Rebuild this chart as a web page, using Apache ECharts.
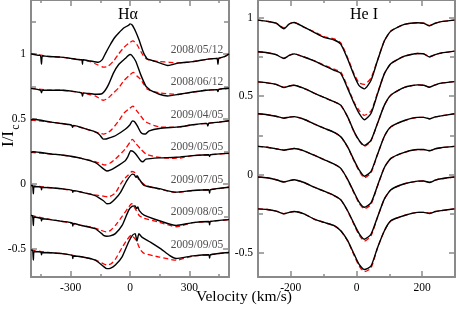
<!DOCTYPE html>
<html><head><meta charset="utf-8">
<script src="https://cdn.jsdelivr.net/npm/echarts@6/dist/echarts.min.js"></script>
<style>html,body{margin:0;padding:0;background:#fff}#c{width:457px;height:309px}</style>
</head><body><div id="c"></div>
<script>
// ---------- DATA ----------
const dates = ['2008/05/12','2008/06/12','2009/04/05','2009/05/05','2009/07/05','2009/08/05','2009/09/05'];
const dateLevels = [1, 0.75, 0.5, 0.25, 0, -0.25, -0.5];
const dateLabelV = 471;

// H-alpha observed (black) [velocity km/s, I/Ic]
const haObs1 = [[-500,1.00],[-470,0.99],[-452,0.985],[-447,0.92],[-442,0.985],[-413,0.98],[-350,0.975],[-300,0.965],[-250,0.955],[-243,0.955],[-240,0.92],[-237,0.955],[-200,0.945],[-160,0.935],[-140,0.955],[-125,1.0],[-100,1.07],[-80,1.12],[-57,1.16],[-30,1.2],[-7,1.22],[0,1.23],[12,1.22],[29,1.17],[45,1.11],[54,1.07],[63,1.03],[71,1.0],[88,0.96],[110,0.95],[131,0.94],[160,0.925],[190,0.91],[220,0.92],[249,0.93],[317,0.94],[385,0.957],[439,0.965],[444,0.92],[449,0.965],[480,0.98],[500,1.0]];
const haObs2 = [[-500,0.734],[-452,0.72],[-447,0.70],[-442,0.72],[-400,0.72],[-346,0.72],[-245,0.70],[-240,0.675],[-235,0.70],[-176,0.689],[-142,0.693],[-125,0.72],[-108,0.765],[-83,0.854],[-57,0.918],[-24,0.964],[0,0.995],[8,0.99],[29,0.943],[54,0.84],[80,0.752],[92,0.735],[97,0.727],[102,0.72],[148,0.689],[190,0.676],[249,0.689],[317,0.706],[385,0.72],[439,0.725],[444,0.71],[449,0.727],[500,0.735]];
const haObs3 = [[-500,0.49],[-490,0.497],[-400,0.475],[-346,0.464],[-295,0.452],[-290,0.435],[-285,0.45],[-250,0.435],[-176,0.40],[-155,0.38],[-134,0.344],[-120,0.345],[-100,0.355],[-74,0.37],[-24,0.42],[0,0.455],[12,0.484],[22,0.48],[37,0.446],[55,0.395],[70,0.383],[80,0.385],[97,0.408],[148,0.426],[249,0.438],[317,0.454],[388,0.465],[393,0.445],[398,0.466],[450,0.475],[500,0.485]];
const haObs4 = [[-500,0.242],[-490,0.247],[-400,0.23],[-346,0.222],[-290,0.21],[-245,0.196],[-176,0.165],[-134,0.115],[-117,0.099],[-100,0.105],[-74,0.127],[-24,0.178],[-12,0.205],[4,0.255],[15,0.25],[29,0.23],[54,0.178],[65,0.17],[80,0.19],[148,0.2],[233,0.204],[317,0.217],[398,0.224],[402,0.21],[406,0.224],[500,0.234]];
const haObs5 = [[-500,-0.013],[-492,-0.013],[-488,-0.077],[-484,-0.02],[-450,-0.025],[-447,-0.045],[-444,-0.027],[-400,-0.03],[-346,-0.038],[-292,-0.05],[-289,-0.065],[-286,-0.052],[-245,-0.064],[-176,-0.09],[-134,-0.13],[-117,-0.153],[-100,-0.15],[-74,-0.115],[-47,-0.063],[-15,0.027],[12,0.075],[22,0.07],[30,0.05],[37,0.06],[46,0.038],[71,-0.011],[148,-0.037],[233,-0.064],[317,-0.051],[398,-0.045],[402,-0.07],[406,-0.045],[500,-0.026]];
const haObs6 = [[-500,-0.243],[-492,-0.245],[-488,-0.32],[-484,-0.255],[-450,-0.265],[-447,-0.285],[-444,-0.268],[-400,-0.275],[-346,-0.288],[-292,-0.3],[-289,-0.325],[-286,-0.305],[-245,-0.32],[-176,-0.344],[-149,-0.375],[-134,-0.396],[-117,-0.403],[-100,-0.40],[-74,-0.383],[-40,-0.32],[-7,-0.204],[12,-0.172],[26,-0.17],[33,-0.19],[40,-0.178],[46,-0.204],[71,-0.241],[148,-0.284],[233,-0.32],[317,-0.298],[398,-0.29],[402,-0.315],[406,-0.29],[500,-0.275]];
const haObs7 = [[-500,-0.51],[-492,-0.51],[-488,-0.587],[-484,-0.52],[-450,-0.525],[-447,-0.545],[-444,-0.528],[-400,-0.53],[-346,-0.536],[-292,-0.55],[-289,-0.575],[-286,-0.555],[-245,-0.561],[-176,-0.587],[-134,-0.635],[-117,-0.652],[-100,-0.65],[-74,-0.625],[-40,-0.561],[-7,-0.447],[12,-0.396],[26,-0.383],[35,-0.44],[45,-0.383],[60,-0.41],[105,-0.45],[156,-0.50],[199,-0.55],[233,-0.574],[317,-0.554],[398,-0.545],[402,-0.57],[406,-0.545],[500,-0.528]];

// H-alpha model (red dashed)
const haFit1 = [[-500,1.0],[-447,0.99],[-413,0.98],[-350,0.975],[-300,0.965],[-250,0.955],[-200,0.94],[-170,0.92],[-134,0.897],[-110,0.905],[-80,0.95],[-57,1.0],[-30,1.05],[-7,1.08],[15,1.10],[35,1.07],[54,1.02],[70,0.98],[88,0.957],[120,0.945],[148,0.94],[200,0.935],[250,0.93],[317,0.94],[385,0.957],[440,0.965],[480,0.98],[500,1.0]];
const haFit2 = [[-500,0.734],[-400,0.72],[-346,0.72],[-245,0.70],[-200,0.685],[-176,0.676],[-134,0.643],[-110,0.66],[-91,0.689],[-57,0.739],[-30,0.795],[-7,0.829],[17,0.857],[35,0.83],[54,0.803],[70,0.765],[88,0.727],[120,0.71],[148,0.70],[216,0.69],[249,0.689],[317,0.706],[385,0.72],[440,0.725],[500,0.735]];
const haFit3 = [[-500,0.49],[-400,0.475],[-346,0.464],[-250,0.435],[-176,0.40],[-134,0.383],[-110,0.395],[-91,0.42],[-57,0.484],[-30,0.545],[-7,0.574],[15,0.597],[35,0.56],[54,0.523],[70,0.49],[88,0.47],[120,0.45],[148,0.438],[200,0.435],[249,0.438],[317,0.454],[388,0.465],[450,0.475],[500,0.485]];
const haFit4 = [[-500,0.242],[-400,0.23],[-346,0.222],[-245,0.196],[-176,0.171],[-125,0.145],[-100,0.16],[-74,0.191],[-24,0.268],[0,0.32],[12,0.342],[30,0.31],[54,0.268],[80,0.23],[110,0.215],[148,0.204],[216,0.196],[260,0.2],[317,0.217],[400,0.224],[500,0.234]];
const haFit5 = [[-500,-0.013],[-400,-0.03],[-346,-0.038],[-245,-0.064],[-176,-0.085],[-134,-0.095],[-110,-0.10],[-74,-0.07],[-47,0.0],[-24,0.045],[-7,0.07],[10,0.095],[25,0.085],[46,0.03],[80,-0.013],[148,-0.04],[233,-0.066],[317,-0.051],[400,-0.045],[500,-0.026]];
const haFit6 = [[-500,-0.243],[-400,-0.275],[-346,-0.288],[-245,-0.32],[-176,-0.34],[-149,-0.356],[-120,-0.37],[-100,-0.36],[-74,-0.32],[-40,-0.25],[-7,-0.18],[8,-0.152],[30,-0.2],[46,-0.243],[71,-0.265],[148,-0.295],[233,-0.33],[317,-0.298],[400,-0.29],[500,-0.275]];
const haFit7 = [[-500,-0.51],[-400,-0.53],[-346,-0.536],[-245,-0.561],[-176,-0.585],[-134,-0.615],[-117,-0.625],[-95,-0.615],[-74,-0.58],[-40,-0.49],[-15,-0.43],[6,-0.395],[29,-0.43],[54,-0.51],[71,-0.535],[148,-0.563],[233,-0.587],[317,-0.556],[400,-0.545],[500,-0.528]];

// He I: shared velocity grid
const heV = [-300,-272,-245,-221,-205,-190,-160,-129,-99,-68,-48,-27,-7,8,24,44,64,85,105,146,186,205,222,240,258,298];
const heObs1 = [0.985,0.977,0.965,0.93,0.96,0.97,0.94,0.907,0.875,0.858,0.832,0.737,0.63,0.567,0.547,0.60,0.727,0.853,0.916,0.958,0.968,0.965,0.948,0.965,0.975,0.985];
const heObs2 = [0.783,0.777,0.765,0.74,0.76,0.77,0.75,0.725,0.695,0.665,0.645,0.55,0.453,0.39,0.35,0.39,0.515,0.644,0.708,0.755,0.772,0.77,0.75,0.765,0.775,0.787];
const heObs3 = [0.591,0.585,0.575,0.555,0.565,0.57,0.55,0.52,0.492,0.465,0.443,0.368,0.273,0.219,0.187,0.219,0.327,0.443,0.508,0.556,0.572,0.57,0.557,0.572,0.583,0.593];
const heObs4 = [0.388,0.382,0.372,0.36,0.367,0.37,0.353,0.323,0.296,0.27,0.242,0.177,0.09,0.03,-0.01,0.02,0.13,0.245,0.305,0.345,0.365,0.365,0.355,0.368,0.375,0.388];
const heObs5 = [0.18,0.175,0.165,0.156,0.162,0.167,0.152,0.124,0.096,0.067,0.04,-0.03,-0.115,-0.175,-0.208,-0.18,-0.07,0.046,0.104,0.142,0.16,0.16,0.152,0.165,0.172,0.18];
const heObs6 = [-0.015,-0.02,-0.032,-0.047,-0.038,-0.032,-0.05,-0.08,-0.105,-0.133,-0.16,-0.23,-0.315,-0.375,-0.411,-0.38,-0.27,-0.154,-0.096,-0.058,-0.041,-0.04,-0.05,-0.035,-0.026,-0.015];
const heObs7 = [-0.218,-0.222,-0.232,-0.25,-0.24,-0.235,-0.25,-0.283,-0.304,-0.325,-0.357,-0.42,-0.508,-0.572,-0.604,-0.583,-0.465,-0.357,-0.293,-0.26,-0.24,-0.24,-0.247,-0.235,-0.229,-0.218];
const heFit1 = [0.985,0.977,0.965,0.935,0.96,0.97,0.94,0.91,0.88,0.865,0.84,0.745,0.64,0.585,0.575,0.615,0.73,0.853,0.916,0.958,0.968,0.965,0.95,0.965,0.975,0.985];
const heFit2 = [0.783,0.777,0.765,0.743,0.76,0.77,0.75,0.727,0.698,0.672,0.655,0.56,0.46,0.41,0.378,0.405,0.52,0.644,0.708,0.755,0.772,0.77,0.752,0.765,0.775,0.787];
const heFit3 = [0.591,0.585,0.575,0.557,0.565,0.57,0.55,0.52,0.492,0.465,0.443,0.368,0.27,0.215,0.18,0.215,0.327,0.443,0.508,0.556,0.572,0.57,0.558,0.572,0.583,0.593];
const heFit4 = [0.388,0.382,0.372,0.362,0.367,0.37,0.353,0.323,0.296,0.27,0.242,0.175,0.085,0.025,-0.02,0.012,0.128,0.245,0.305,0.345,0.365,0.365,0.357,0.368,0.375,0.388];
const heFit5 = [0.18,0.175,0.165,0.158,0.162,0.167,0.152,0.124,0.096,0.067,0.04,-0.032,-0.12,-0.183,-0.218,-0.19,-0.072,0.046,0.104,0.142,0.16,0.16,0.154,0.165,0.172,0.18];
const heFit6 = [-0.015,-0.02,-0.032,-0.045,-0.038,-0.032,-0.05,-0.08,-0.105,-0.133,-0.16,-0.232,-0.32,-0.385,-0.423,-0.39,-0.272,-0.154,-0.096,-0.058,-0.041,-0.04,-0.048,-0.035,-0.026,-0.015];
const heFit7 = [-0.218,-0.222,-0.232,-0.248,-0.24,-0.235,-0.25,-0.283,-0.304,-0.325,-0.357,-0.422,-0.515,-0.582,-0.618,-0.595,-0.468,-0.357,-0.293,-0.26,-0.24,-0.24,-0.245,-0.235,-0.229,-0.218];

// tick values
const haXMajor = [-300, 0, 300], haXMinor = [-450, -150, 150, 450];
const haYMajor = [-0.5, 0, 0.5, 1], haYMinor = [-0.25, 0.25, 0.75, 1.25];
const heXMajor = [-200, 0, 200], heXMinor = [-100, 100];
const heYMajor = [-0.5, 0, 0.5, 1], heYMinor = [-0.25, 0.25, 0.75];

// ---------- LAYOUT ----------
const SERIF = "'Liberation Serif','DejaVu Serif',serif";
const AX = '#8a8a8a';
const haXRange = [-500, 500], haYRange = [-0.7165, 1.414];
const heXRange = [-300, 300], heYRange = [-0.652, 1.113];

function mkAxis(grid, range, pos, vals, len, labels, line) {
  return {
    type: 'value', gridIndex: grid, position: pos, min: range[0], max: range[1],
    axisLine: { show: line, onZero: false, lineStyle: { color: AX, width: 2 } },
    axisTick: { show: true, inside: true, length: len, customValues: vals, lineStyle: { color: AX, width: 1.5 } },
    axisLabel: labels ? { show: true, customValues: vals, margin: 5, color: '#000', fontFamily: SERIF, fontSize: 11.5,
      formatter: v => String(v) } : { show: false },
    splitLine: { show: false }
  };
}
function axesFor(grid, xr, yr, xMaj, xMin, yMaj, yMin) {
  return {
    x: [mkAxis(grid, xr, 'bottom', xMaj, 6, true, true), mkAxis(grid, xr, 'bottom', xMin, 3, false, false),
        mkAxis(grid, xr, 'top', xMaj, 6, false, true), mkAxis(grid, xr, 'top', xMin, 3, false, false)],
    y: [mkAxis(grid, yr, 'left', yMaj, 6, true, true), mkAxis(grid, yr, 'left', yMin, 5, false, false),
        mkAxis(grid, yr, 'right', yMaj, 6, false, true), mkAxis(grid, yr, 'right', yMin, 5, false, false)]
  };
}
const a0 = axesFor(0, haXRange, haYRange, haXMajor, haXMinor, haYMajor, haYMinor);
const a1 = axesFor(1, heXRange, heYRange, heXMajor, heXMinor, heYMajor, heYMinor);

function lineSeries(data, grid, dashed) {
  return {
    type: 'line', xAxisIndex: grid * 4, yAxisIndex: grid * 4, data: data,
    symbol: 'none', showSymbol: false, smooth: 0.2, silent: true, z: dashed ? 2 : 3,
    lineStyle: { color: dashed ? '#ff0000' : '#000', width: dashed ? 1.3 : 1.4, type: dashed ? [5, 3] : 'solid' }
  };
}
const haObs = [haObs1, haObs2, haObs3, haObs4, haObs5, haObs6, haObs7];
const haFit = [haFit1, haFit2, haFit3, haFit4, haFit5, haFit6, haFit7];
const heObs = [heObs1, heObs2, heObs3, heObs4, heObs5, heObs6, heObs7];
const heFit = [heFit1, heFit2, heFit3, heFit4, heFit5, heFit6, heFit7];
const pair = arr => heV.map((v, i) => [v, arr[i]]);

const series = [];
haFit.forEach(d => series.push(lineSeries(d, 0, true)));
haObs.forEach(d => series.push(lineSeries(d, 0, false)));
heFit.forEach(d => series.push(lineSeries(pair(d), 1, true)));
heObs.forEach(d => series.push(lineSeries(pair(d), 1, false)));
series.push({
  type: 'scatter', xAxisIndex: 0, yAxisIndex: 0, symbolSize: 0, silent: true, z: 5,
  data: dates.map((d, i) => ({ name: d, value: [dateLabelV, dateLevels[i]] })),
  label: { show: true, position: 'left', distance: 0, offset: [0, -4], formatter: '{b}',
    fontFamily: SERIF, fontSize: 11.5, color: '#222' }
});

const chart = echarts.init(document.getElementById('c'), null, { renderer: 'canvas' });
chart.setOption({
  animation: false,
  backgroundColor: '#fff',
  grid: [
    { left: 31, top: -1, width: 198, bottom: 32, containLabel: false },
    { left: 258, top: -1, width: 197, bottom: 32, containLabel: false }
  ],
  xAxis: a0.x.concat(a1.x),
  yAxis: a0.y.concat(a1.y),
  series: series,
  graphic: [
    { type: 'text', left: 118, top: 7, style: { text: 'Hα', font: '16px ' + SERIF, fill: '#000' } },
    { type: 'text', left: 350, top: 7, style: { text: 'He I', font: '16px ' + SERIF, fill: '#000' } },
    { type: 'text', left: 196, top: 289, style: { text: 'Velocity (km/s)', font: '15.5px ' + SERIF, fill: '#000' } },
    { type: 'text', x: 9, y: 139, rotation: Math.PI / 2, z: 10,
      style: { text: 'I/I', font: '17px ' + SERIF, fill: '#000', align: 'center', verticalAlign: 'middle' } },
    { type: 'text', x: 16, y: 127, rotation: Math.PI / 2, z: 10,
      style: { text: 'c', font: '12px ' + SERIF, fill: '#000', align: 'center', verticalAlign: 'middle' } }
  ]
});
</script></body></html>
